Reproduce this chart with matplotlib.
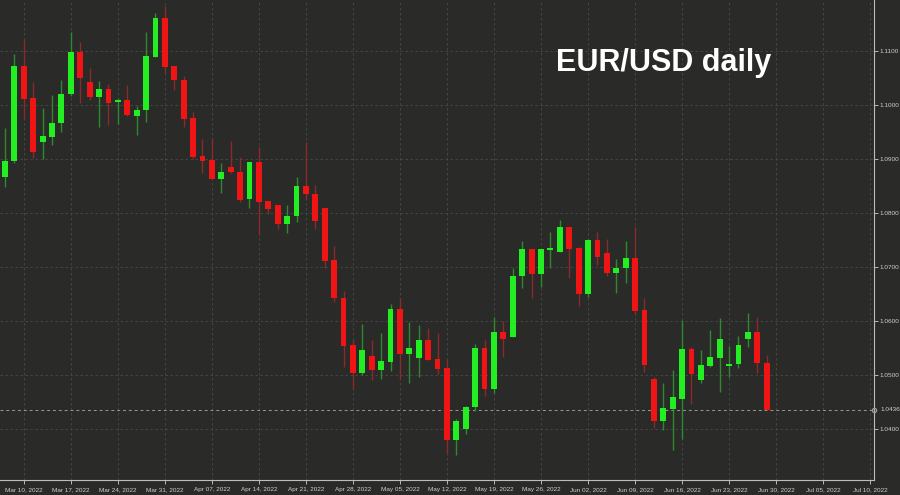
import matplotlib
matplotlib.use("Agg")
import matplotlib.pyplot as plt
from matplotlib.patches import Rectangle

opens = [1.0867,1.0896,1.1072,1.1013,1.0931,1.0941,1.0967,1.1020,1.1098,1.1043,
         1.1015,1.1030,1.1006,1.1009,1.0980,1.0991,1.1089,1.1161,1.1072,1.1046,
         1.0976,1.0906,1.0898,1.0863,1.0885,1.0876,1.0826,1.0894,1.0822,1.0815,
         1.0780,1.0794,1.0850,1.0835,1.0809,1.0713,1.0643,1.0556,1.0504,1.0535,
         1.0509,1.0524,1.0622,1.0539,1.0531,1.0565,1.0530,1.0513,1.0380,1.0400,
         1.0441,1.0550,1.0474,1.0580,1.0570,1.0683,1.0733,1.0687,1.0731,1.0728,
         1.0774,1.0735,1.0650,1.0750,1.0726,1.0689,1.0698,1.0717,1.0620,1.0493,
         1.0415,1.0437,1.0457,1.0548,1.0491,1.0517,1.0531,1.0517,1.0520,1.0567,
         1.0580,1.0522]
highs = [1.0957,1.1094,1.1120,1.1043,1.0994,1.1019,1.1046,1.1135,1.1117,1.1069,
         1.1044,1.1039,1.1013,1.1037,1.0998,1.1135,1.1170,1.1183,1.1072,1.1054,
         1.0987,1.0937,1.0939,1.0893,1.0933,1.0904,1.0894,1.0922,1.0822,1.0815,
         1.0815,1.0867,1.0931,1.0852,1.0809,1.0739,1.0656,1.0565,1.0594,1.0565,
         1.0578,1.0631,1.0643,1.0598,1.0593,1.0587,1.0578,1.0530,1.0420,1.0444,
         1.0557,1.0565,1.0607,1.0600,1.0698,1.0748,1.0733,1.0733,1.0765,1.0787,
         1.0774,1.0737,1.0752,1.0765,1.0752,1.0715,1.0748,1.0774,1.0643,1.0496,
         1.0485,1.0509,1.0602,1.0552,1.0546,1.0583,1.0606,1.0554,1.0572,1.0615,
         1.0607,1.0537]
lows = [1.0848,1.0893,1.0976,1.0902,1.0900,1.0926,1.0950,1.1017,1.1004,1.1009,
        1.0959,1.0963,1.0965,1.0980,1.0944,1.0969,1.1089,1.1059,1.1028,1.0959,
        1.0900,1.0874,1.0863,1.0837,1.0874,1.0820,1.0809,1.0759,1.0798,1.0770,
        1.0763,1.0783,1.0824,1.0770,1.0698,1.0635,1.0515,1.0474,1.0500,1.0491,
        1.0493,1.0507,1.0493,1.0485,1.0496,1.0528,1.0502,1.0356,1.0352,1.0391,
        1.0433,1.0461,1.0467,1.0533,1.0570,1.0661,1.0643,1.0663,1.0698,1.0728,
        1.0680,1.0628,1.0644,1.0704,1.0683,1.0652,1.0670,1.0611,1.0506,1.0402,
        1.0398,1.0361,1.0383,1.0446,1.0485,1.0515,1.0469,1.0496,1.0513,1.0552,
        1.0504,1.0436]
closes = [1.0896,1.1072,1.1011,1.0913,1.0943,1.0967,1.1020,1.1098,1.1050,1.1015,
          1.1030,1.1004,1.1009,1.0981,1.0991,1.1091,1.1161,1.1070,1.1046,1.0974,
          1.0904,1.0896,1.0863,1.0876,1.0876,1.0824,1.0894,1.0820,1.0807,1.0780,
          1.0794,1.0850,1.0835,1.0785,1.0711,1.0643,1.0554,1.0504,1.0546,1.0509,
          1.0526,1.0622,1.0539,1.0550,1.0565,1.0528,1.0511,1.0380,1.0415,1.0441,
          1.0550,1.0474,1.0580,1.0567,1.0683,1.0733,1.0687,1.0733,1.0735,1.0774,
          1.0733,1.0650,1.0750,1.0719,1.0689,1.0698,1.0717,1.0619,1.0519,1.0415,
          1.0439,1.0459,1.0548,1.0502,1.0519,1.0533,1.0567,1.0520,1.0556,1.0580,
          1.0522,1.0436]
date_labels = ["Mar 10, 2022","Mar 17, 2022","Mar 24, 2022","Mar 31, 2022","Apr 07, 2022",
               "Apr 14, 2022","Apr 21, 2022","Apr 28, 2022","May 05, 2022","May 12, 2022",
               "May 19, 2022","May 26, 2022","Jun 02, 2022","Jun 09, 2022","Jun 16, 2022",
               "Jun 23, 2022","Jun 30, 2022","Jul 05, 2022","Jul 10, 2022"]
date_pos = [2 + 5 * k for k in range(len(date_labels))]
price_ticks = [1.0400,1.0500,1.0600,1.0700,1.0800,1.0900,1.1000,1.1100]
last_price = 1.0436
title = "EUR/USD daily"

bg = "#2a2b28"
fig = plt.figure(figsize=(9, 4.95), dpi=100, facecolor=bg)
ax = fig.add_axes([0.0, 0.03, 0.971, 0.97], facecolor=bg)

up_body, up_wick = "#22ee22", "#2f8a2f"
dn_body, dn_wick = "#f01414", "#8a2a2a"
w = 0.62
for i, (o, h, l, c) in enumerate(zip(opens, highs, lows, closes)):
    up = c >= o
    ax.vlines(i, l, h, color=up_wick if up else dn_wick, lw=1.0, zorder=2)
    lo, hi = min(o, c), max(o, c)
    ax.add_patch(Rectangle((i - w / 2, lo), w, max(hi - lo, 0.00008),
                           facecolor=up_body if up else dn_body, edgecolor="none", zorder=3))

ax.set_xlim(-0.53, 92.4)
ax.set_ylim(1.0306, 1.1194)
ax.set_yticks(price_ticks)
ax.set_yticklabels([f"{p:.4f}" for p in price_ticks])
ax.set_xticks(date_pos)
ax.set_xticklabels(date_labels)
ax.yaxis.tick_right()
ax.tick_params(colors="#cfcfcf", labelsize=4.6, length=3, width=0.6, pad=1.2)
for lab in ax.get_xticklabels() + ax.get_yticklabels():
    lab.set_family("Liberation Sans")
ax.tick_params(axis="x", pad=2)
for s in ["top", "left"]:
    ax.spines[s].set_visible(False)
for s in ["right", "bottom"]:
    ax.spines[s].set_color("#bdbdbd")
    ax.spines[s].set_linewidth(0.8)
ax.grid(True, color="#4a4b48", ls=(0, (3, 3)), lw=0.6)
ax.set_axisbelow(True)

ax.axhline(last_price, color="#9a9a9a", ls=(0, (3, 3)), lw=0.7, zorder=1)
ax.plot([92.4], [last_price], marker="o", ms=3, mfc="none", mec="#9a9a9a", clip_on=False, zorder=5)
ax.text(1.008, last_price, f"{last_price:.4f}", transform=ax.get_yaxis_transform(),
        color="#cfcfcf", fontsize=4.6, family="Liberation Sans", va="center", ha="left")

ax.text(0.618, 0.872, title, transform=fig.transFigure, color="white",
        fontsize=22, fontweight="bold", family="Liberation Sans", va="center", ha="left")

fig.savefig("out.png", dpi=100, facecolor=bg)
